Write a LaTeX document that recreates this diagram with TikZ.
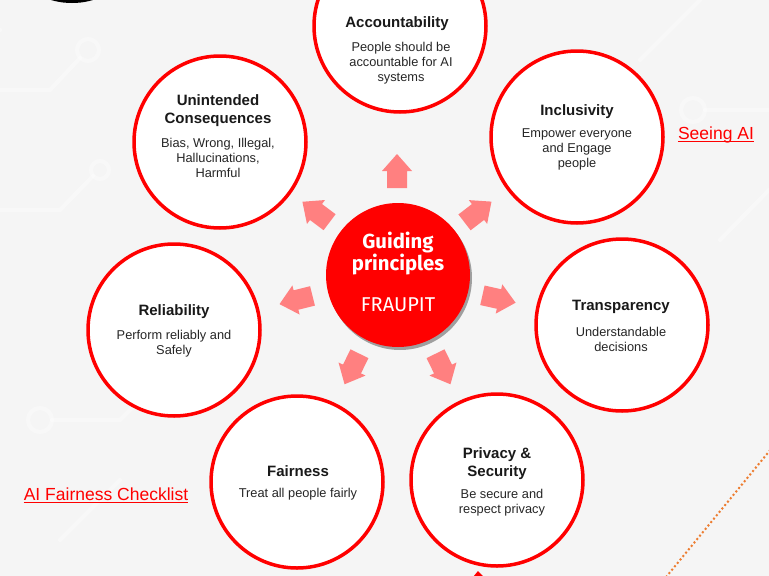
\documentclass[tikz,border=0pt]{standalone}
\usepackage{fontspec}
\setmainfont{Liberation Sans}
\newfontfamily\corefont{Fira Sans}
\usetikzlibrary{shadows}
\definecolor{bgc}{RGB}{245,245,245}
\definecolor{mainred}{RGB}{255,0,0}
\definecolor{arrowred}{RGB}{255,128,128}
\definecolor{dotorange}{RGB}{237,125,49}
\tikzset{
  outer/.style={circle, draw=mainred, line width=3.5pt, fill=white, inner sep=0pt, minimum size=172pt},
  ttl/.style={font=\fontsize{15}{18}\selectfont\bfseries, align=center, inner sep=0pt, text=black!90},
  body/.style={font=\fontsize{12.8}{15}\selectfont, align=center, inner sep=0pt, text=black!85},
  linkt/.style={font=\fontsize{17.5}{20}\selectfont, text=mainred, inner sep=0pt},
  uline/.style={draw=mainred, line width=0.8pt},
  bigarrow/.style={fill=arrowred},
  trace/.style={draw=white, line width=4pt, opacity=0.35, line cap=round},
}
\newcommand{\outarrow}[3]{\fill[bigarrow, shift={(#1,#2)}, rotate=#3] (-17,-10) -- (0,-10) -- (0,-15) -- (17,0) -- (0,15) -- (0,10) -- (-17,10) -- cycle;}
\begin{document}
\begin{tikzpicture}[x=1pt,y=-1pt]
\useasboundingbox (0,0) rectangle (769,576);
\fill[bgc] (0,0) rectangle (769,576);
% faint circuit traces
\draw[trace] (88,50) circle (11);
\draw[trace] (80,58) -- (50,90) -- (0,90);
\draw[trace] (0,30) arc (-90:90:-20);
\draw[trace] (100,170) circle (9);
\draw[trace] (93,176) -- (60,210) -- (0,210);
\draw[trace] (693,110) circle (12);
\draw[trace] (705,110) -- (769,110);
\draw[trace] (640,60) -- (700,0);
\draw[trace] (40,420) circle (12);
\draw[trace] (52,420) -- (120,420) -- (150,390);
\draw[trace] (720,240) -- (769,190);
\draw[trace] (60,540) -- (120,480);
% black shape at top left
\fill[black] (72,-22) ellipse [x radius=44, y radius=25];
% dotted orange line and red mark
\coordinate (dA) at (776,443);
\coordinate (dB) at (662,582);
\draw[dotorange, line width=2pt, dash pattern=on 2pt off 2.4pt] (dA) -- (dB);
\fill[mainred] (473,577) -- (478,571) -- (484,577) -- cycle;
% outer circles
\node[outer] (acc) at (400,26) {};
\node[outer] (inc) at (577,137) {};
\node[outer] (uni) at (220,142) {};
\node[outer] (rel) at (174,330) {};
\node[outer] (tra) at (622,325) {};
\node[outer] (fai) at (297,482) {};
\node[outer] (pri) at (497,480) {};
% arrows
\outarrow{397}{171}{90}
\outarrow{478}{212}{37.6}
\outarrow{316}{212}{143}
\outarrow{296}{300}{194}
\outarrow{499}{299}{-12.6}
\outarrow{352}{369}{244}
\outarrow{443}{369}{-64}
% core
\node[circle, fill=mainred, minimum size=144pt, inner sep=0pt,
  drop shadow={shadow xshift=2pt, shadow yshift=-3pt, opacity=0.35, fill=black}] (core) at (398,275) {};
\node[font=\corefont\fontsize{20.3}{22}\selectfont\bfseries, text=white, align=center, inner sep=0pt] (coret) at (398,254) {Guiding\\principles};
\node[font=\corefont\fontsize{20}{22}\selectfont, text=white, inner sep=0pt] (coref) at (398,305) {FRAUPIT};
% texts
\node[ttl] (acct) at (397,24) {Accountability};
\node[body] (accb) at (401,63) {People should be\\accountable for AI\\systems};
\node[ttl] (inct) at (577,112) {Inclusivity};
\node[body] (incb) at (577,149) {Empower everyone\\and Engage\\people};
\node[ttl] (unit) at (218,111) {Unintended\\Consequences};
\node[body] (unib) at (218,158) {Bias, Wrong, Illegal,\\Hallucinations,\\Harmful};
\node[ttl] (relt) at (174,312) {Reliability};
\node[body] (relb) at (174,344) {Perform reliably and\\Safely};
\node[ttl] (trat) at (621,307) {Transparency};
\node[body] (trab) at (621,339) {Understandable\\decisions};
\node[ttl] (fait) at (298,471) {Fairness};
\node[body] (faib) at (298,494) {Treat all people fairly};
\node[ttl] (prit) at (497,464) {Privacy \&\\Security};
\node[body] (prib) at (502,503) {Be secure and\\respect privacy};
\node[linkt, anchor=base] (seeing) at (716,139) {Seeing AI};
\draw[uline] ([yshift=-2.5pt]seeing.base west) -- ([yshift=-2.5pt]seeing.base east);
\node[linkt, anchor=base] (check) at (106,500) {AI Fairness Checklist};
\draw[uline] ([yshift=-2.5pt]check.base west) -- ([yshift=-2.5pt]check.base east);
\end{tikzpicture}
\end{document}
